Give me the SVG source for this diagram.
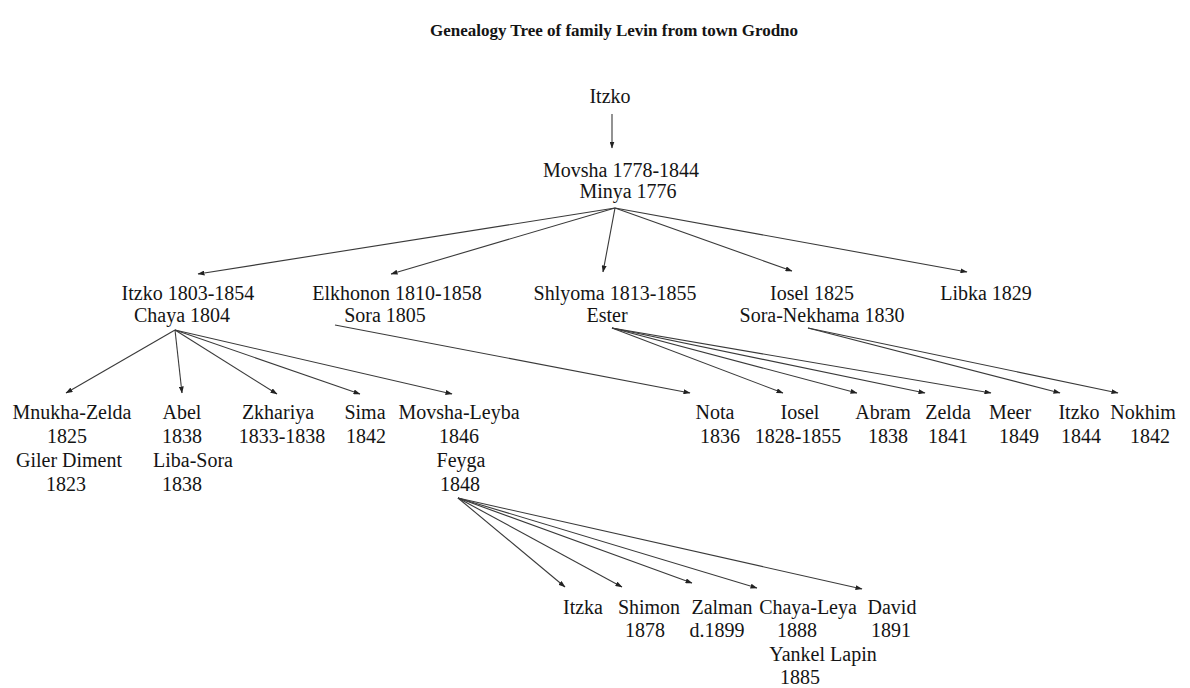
<svg xmlns="http://www.w3.org/2000/svg" width="1190" height="688" viewBox="0 0 1190 688">
<style>
text{font-family:"Liberation Serif","Times New Roman",serif;font-size:20px;fill:#141414;text-anchor:middle}
.title{font-size:17px;font-weight:bold}
.c line{stroke:#3a3a3a;stroke-width:1.1;marker-end:url(#ah)}
</style>
<defs>
<marker id="ah" markerWidth="7" markerHeight="5" refX="6.5" refY="2.5" orient="auto" markerUnits="userSpaceOnUse">
<path d="M0,0 L7,2.5 L0,5 z" fill="#222"/>
</marker>
</defs>
<rect width="1190" height="688" fill="#fff"/>
<text class="title" x="614" y="36">Genealogy Tree of family Levin from town Grodno</text>
<g class="c" id="connectors">
<line x1="612" y1="114" x2="612" y2="148"/>
<line x1="615" y1="208" x2="198" y2="274"/>
<line x1="615" y1="208" x2="391" y2="274"/>
<line x1="615" y1="208" x2="603" y2="272"/>
<line x1="615" y1="208" x2="792" y2="271"/>
<line x1="615" y1="208" x2="967" y2="272"/>
<line x1="175" y1="330" x2="66" y2="393"/>
<line x1="175" y1="330" x2="182" y2="393"/>
<line x1="175" y1="330" x2="277" y2="394"/>
<line x1="175" y1="330" x2="360" y2="394"/>
<line x1="175" y1="330" x2="452" y2="394"/>
<line x1="335" y1="325" x2="690" y2="393"/>
<line x1="612" y1="328" x2="783" y2="393"/>
<line x1="612" y1="328" x2="857" y2="393"/>
<line x1="612" y1="328" x2="925" y2="393"/>
<line x1="612" y1="328" x2="991" y2="393"/>
<line x1="808" y1="328" x2="1060" y2="393"/>
<line x1="808" y1="328" x2="1118" y2="393"/>
<line x1="458" y1="498" x2="565" y2="587"/>
<line x1="458" y1="498" x2="622" y2="587"/>
<line x1="458" y1="498" x2="692" y2="583"/>
<line x1="458" y1="498" x2="757" y2="588"/>
<line x1="458" y1="498" x2="862" y2="589"/>
</g>
<g id="n-itzko0"><text x="610" y="103">Itzko</text></g>
<g id="n-movsha"><text x="621" y="177">Movsha 1778-1844</text><text x="628" y="198">Minya 1776</text></g>
<g id="n-itzko1803"><text x="188" y="300">Itzko 1803-1854</text><text x="182" y="322">Chaya 1804</text></g>
<g id="n-elkhonon"><text x="397" y="300">Elkhonon 1810-1858</text><text x="385" y="322">Sora 1805</text></g>
<g id="n-shlyoma"><text x="615" y="300">Shlyoma 1813-1855</text><text x="607" y="322">Ester</text></g>
<g id="n-iosel1825"><text x="812" y="300">Iosel 1825</text><text x="822" y="322">Sora-Nekhama 1830</text></g>
<g id="n-libka"><text x="986" y="300">Libka 1829</text></g>
<g id="n-mnukha"><text x="72" y="419">Mnukha-Zelda</text><text x="67" y="443">1825</text><text x="69" y="467">Giler Diment</text><text x="66" y="491">1823</text></g>
<g id="n-abel"><text x="182" y="419">Abel</text><text x="182" y="443">1838</text><text x="193" y="467">Liba-Sora</text><text x="182" y="491">1838</text></g>
<g id="n-zkhariya"><text x="278" y="419">Zkhariya</text><text x="282" y="443">1833-1838</text></g>
<g id="n-sima"><text x="365" y="419">Sima</text><text x="366" y="443">1842</text></g>
<g id="n-movshaleyba"><text x="459" y="419">Movsha-Leyba</text><text x="459" y="443">1846</text><text x="461" y="467">Feyga</text><text x="460" y="491">1848</text></g>
<g id="n-nota"><text x="715" y="419">Nota</text><text x="720" y="443">1836</text></g>
<g id="n-iosel1828"><text x="800" y="419">Iosel</text><text x="798" y="443">1828-1855</text></g>
<g id="n-abram"><text x="883" y="419">Abram</text><text x="888" y="443">1838</text></g>
<g id="n-zelda"><text x="948" y="419">Zelda</text><text x="948" y="443">1841</text></g>
<g id="n-meer"><text x="1010" y="419">Meer</text><text x="1019" y="443">1849</text></g>
<g id="n-itzko1844"><text x="1079" y="419">Itzko</text><text x="1081" y="443">1844</text></g>
<g id="n-nokhim"><text x="1143" y="419">Nokhim</text><text x="1150" y="443">1842</text></g>
<g id="n-itzka"><text x="583" y="614">Itzka</text></g>
<g id="n-shimon"><text x="649" y="614">Shimon</text><text x="645" y="637">1878</text></g>
<g id="n-zalman"><text x="722" y="614">Zalman</text><text x="717" y="637">d.1899</text></g>
<g id="n-chayaleya"><text x="808" y="614">Chaya-Leya</text><text x="797" y="637">1888</text><text x="823" y="661">Yankel Lapin</text><text x="800" y="684">1885</text></g>
<g id="n-david"><text x="892" y="614">David</text><text x="891" y="637">1891</text></g>
</svg>
